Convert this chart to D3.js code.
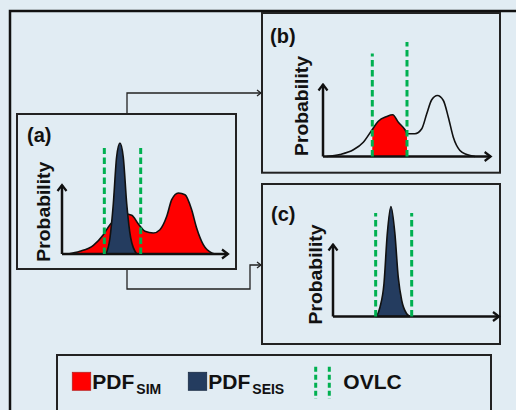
<!DOCTYPE html>
<html><head><meta charset="utf-8">
<script src="https://cdn.jsdelivr.net/npm/d3@7"></script>
<style>html,body{margin:0;padding:0;background:#e1ecf3;} svg{display:block;}</style>
</head><body><svg id="c" width="516" height="410"></svg>
<script>
// ---------- data ----------
// panel (a): simulated PDF (red) and seismic PDF (blue)
const simA_x = [3.6, 10.8, 18.9, 24.9, 28.9, 32.9, 38.0, 42.0, 46.0, 50.0, 55.0, 59.0, 63.1, 66.1, 70.1, 74.1, 78.1, 81.1, 85.1, 90.2, 92.2];
const simA_p = [0, 2.7, 8.7, 19.3, 29.3, 36, 40, 38.7, 30, 22.7, 21, 24.3, 37.7, 54.3, 61, 59.3, 44.3, 26, 9.3, 1, 0];
const seisA_x = [26.5, 28.9, 30.9, 32.9, 34.9, 36.9, 39.0, 41.4, 45.0];
const seisA_p = [0, 16, 50, 97, 111, 97, 50, 16, 0];
// panel (b): simulated PDF, red part inside OVLC
const simB_x = [2.2, 10.2, 18.3, 24.3, 29.3, 33.3, 38.4, 42.0, 45.4, 49.4, 50.8, 55.4, 59.5, 62.5, 65.5, 68.9, 72.5, 75.5, 78.5, 82.5, 86.6, 91.6];
const simB_p = [0, 2, 6.7, 14.3, 26, 35.3, 40, 41.7, 34.3, 26.7, 22.7, 22.7, 27.7, 42.7, 56.7, 61, 56, 39.3, 19.3, 6, 2, 0];
// panel (c): seismic PDF
const seisC_x = [26.3, 28.3, 30.7, 32.7, 34.9, 37.3, 39.3, 41.4, 44.4, 46.4];
const seisC_p = [0, 9.3, 32.7, 82.7, 110, 82.7, 39.3, 16, 2.7, 0];
// OVLC bounds (x) and the heights their dashed lines reach
const ovlcA = [25.5, 47.4], ovlcA_top = [106, 106];
const ovlcB = [29.7, 50.6], ovlcB_top = [103, 114.5];
const ovlcC = [25.7, 47.4], ovlcC_top = [103.5, 103.5];
const panelLabels = ["(a)", "(b)", "(c)"];
const axisLabel = "Probability";
const legendMain = ["PDF", "PDF", "OVLC"];
const legendSub = ["SIM", "SEIS", ""];

// ---------- styles ----------
const RED = "#ff0000", BLUE = "#243c5f", GREEN = "#00b050", INK = "#111";
const FONT = "'Liberation Sans', Arial, sans-serif";

const svg = d3.select("#c");
svg.append("rect").attr("width", 516).attr("height", 410).attr("fill", "#e1ecf3");

const defs = svg.append("defs");
defs.append("marker").attr("id", "axArrow").attr("markerUnits", "userSpaceOnUse")
  .attr("viewBox", "-1 -6 9 12").attr("markerWidth", 9).attr("markerHeight", 12)
  .attr("refX", 6).attr("refY", 0).attr("orient", "auto")
  .append("path").attr("d", "M0,-4.5L6,0L0,4.5").attr("fill", "none")
  .attr("stroke", INK).attr("stroke-width", 2.2);
defs.append("marker").attr("id", "cnArrow").attr("markerUnits", "userSpaceOnUse")
  .attr("viewBox", "-1 -4 6 8").attr("markerWidth", 6).attr("markerHeight", 8)
  .attr("refX", 4).attr("refY", 0).attr("orient", "auto")
  .append("path").attr("d", "M0,-3L4,0L0,3").attr("fill", "none")
  .attr("stroke", "#222").attr("stroke-width", 1.3);

// outer frame
svg.append("rect").attr("x", 10).attr("y", 11).attr("width", 530).attr("height", 430)
  .attr("fill", "none").attr("stroke", INK).attr("stroke-width", 2.5);

// connectors
const cn = svg.append("g").attr("fill", "none").attr("stroke", "#222").attr("stroke-width", 1.3);
cn.append("path").attr("d", "M127,114V93H261").attr("marker-end", "url(#cnArrow)");
cn.append("path").attr("d", "M127,269V289H250V265H261").attr("marker-end", "url(#cnArrow)");

// panels layout
const panels = [
  {rect: [17, 114, 236, 269], origin: [62, 254], xLen: 100, yLen: 69, lab: [27, 142], prob: [50, 211.7],
   sim: [simA_x, simA_p], seis: [seisA_x, seisA_p], ovlc: ovlcA, top: ovlcA_top, clipSim: false},
  {rect: [262, 13, 500, 172.7], origin: [323, 156.5], xLen: 101, yLen: 72, lab: [270, 43], prob: [307.5, 106],
   sim: [simB_x, simB_p], seis: null, ovlc: ovlcB, top: ovlcB_top, clipSim: true},
  {rect: [262, 184, 500, 344], origin: [333, 316.5], xLen: 100, yLen: 72, lab: [271, 220.5], prob: [322, 274.5],
   sim: null, seis: [seisC_x, seisC_p], ovlc: ovlcC, top: ovlcC_top, clipSim: false}
];

panels.forEach((P, i) => {
  const g = svg.append("g");
  const [x0, y0, x1, y1] = P.rect;
  g.append("rect").attr("x", x0).attr("y", y0).attr("width", x1 - x0).attr("height", y1 - y0)
    .attr("fill", "none").attr("stroke", "#222").attr("stroke-width", 2);

  const x = d3.scaleLinear().domain([0, 100]).range([P.origin[0], P.origin[0] + 166]);
  const y = d3.scaleLinear().domain([0, 100]).range([P.origin[1], P.origin[1] - 100]);
  const area = d3.area().x(d => x(d[0])).y0(y(0)).y1(d => y(d[1])).curve(d3.curveMonotoneX);
  const line = d3.line().x(d => x(d[0])).y(d => y(d[1])).curve(d3.curveMonotoneX);

  if (P.sim) {
    const pts = P.sim[0].map((v, k) => [v, P.sim[1][k]]);
    if (P.clipSim) {
      const cid = "clip" + i;
      defs.append("clipPath").attr("id", cid).append("rect")
        .attr("x", x(P.ovlc[0])).attr("y", y(120)).attr("width", x(P.ovlc[1]) - x(P.ovlc[0])).attr("height", y(0) - y(120));
      g.append("path").attr("d", area(pts)).attr("fill", RED).attr("clip-path", `url(#${cid})`);
      g.append("path").attr("d", line(pts)).attr("fill", "none").attr("stroke", INK).attr("stroke-width", 1.6);
    } else {
      g.append("path").attr("d", area(pts)).attr("fill", RED).attr("stroke", INK).attr("stroke-width", 1.6);
    }
  }
  if (P.seis) {
    const pts = P.seis[0].map((v, k) => [v, P.seis[1][k]]);
    g.append("path").attr("d", area(pts)).attr("fill", BLUE).attr("stroke", INK).attr("stroke-width", 1.6);
  }
  // axes with arrows
  g.append("line").attr("x1", x(0)).attr("y1", y(0)).attr("x2", x(P.xLen)).attr("y2", y(0))
    .attr("stroke", INK).attr("stroke-width", 2.5).attr("marker-end", "url(#axArrow)");
  g.append("line").attr("x1", x(0)).attr("y1", y(0)).attr("x2", x(0)).attr("y2", y(P.yLen))
    .attr("stroke", INK).attr("stroke-width", 2.5).attr("marker-end", "url(#axArrow)");
  // OVLC dashed lines
  P.ovlc.forEach((v, k) => {
    g.append("line").attr("x1", x(v)).attr("x2", x(v)).attr("y1", y(0)).attr("y2", y(P.top[k]))
      .attr("stroke", GREEN).attr("stroke-width", 3).attr("stroke-dasharray", "6.5,3.5");
  });
  // labels
  g.append("text").attr("x", P.lab[0]).attr("y", P.lab[1]).text(panelLabels[i])
    .attr("font-family", FONT).attr("font-weight", "bold").attr("font-size", 20).attr("fill", INK);
  g.append("text").attr("transform", `translate(${P.prob[0]},${P.prob[1]}) rotate(-90)`)
    .attr("text-anchor", "middle").attr("textLength", 100).attr("lengthAdjust", "spacingAndGlyphs")
    .attr("font-family", FONT).attr("font-weight", "bold").attr("font-size", 17.5).attr("fill", INK)
    .text(axisLabel);
});

// legend
const lg = svg.append("g");
lg.append("rect").attr("x", 57).attr("y", 355).attr("width", 434).attr("height", 80)
  .attr("fill", "none").attr("stroke", "#222").attr("stroke-width", 2);
const legX = [72.3, 188.3, 315.7];
const legColors = [RED, BLUE, GREEN];
legendMain.forEach((m, k) => {
  if (k < 2) {
    lg.append("rect").attr("x", legX[k]).attr("y", 372.3).attr("width", 18.4).attr("height", 18)
      .attr("fill", legColors[k]).attr("stroke", k === 0 ? "#b22" : "#1a2c44").attr("stroke-width", 0.8);
    const t = lg.append("text").attr("x", legX[k] + 20).attr("y", 388.5)
      .attr("font-family", FONT).attr("font-weight", "bold").attr("font-size", 21).attr("fill", INK);
    t.append("tspan").text(m);
    t.append("tspan").attr("dx", 2).attr("dy", 5).attr("font-size", 14).text(legendSub[k]);
  } else {
    [0, 13.6].forEach(o => {
      lg.append("line").attr("x1", legX[k] + o).attr("x2", legX[k] + o).attr("y1", 366.7).attr("y2", 399)
        .attr("stroke", GREEN).attr("stroke-width", 3).attr("stroke-dasharray", "5,3");
    });
    lg.append("text").attr("x", 343.3).attr("y", 388.5).text(m)
      .attr("font-family", FONT).attr("font-weight", "bold").attr("font-size", 21).attr("fill", INK);
  }
});
</script></body></html>
